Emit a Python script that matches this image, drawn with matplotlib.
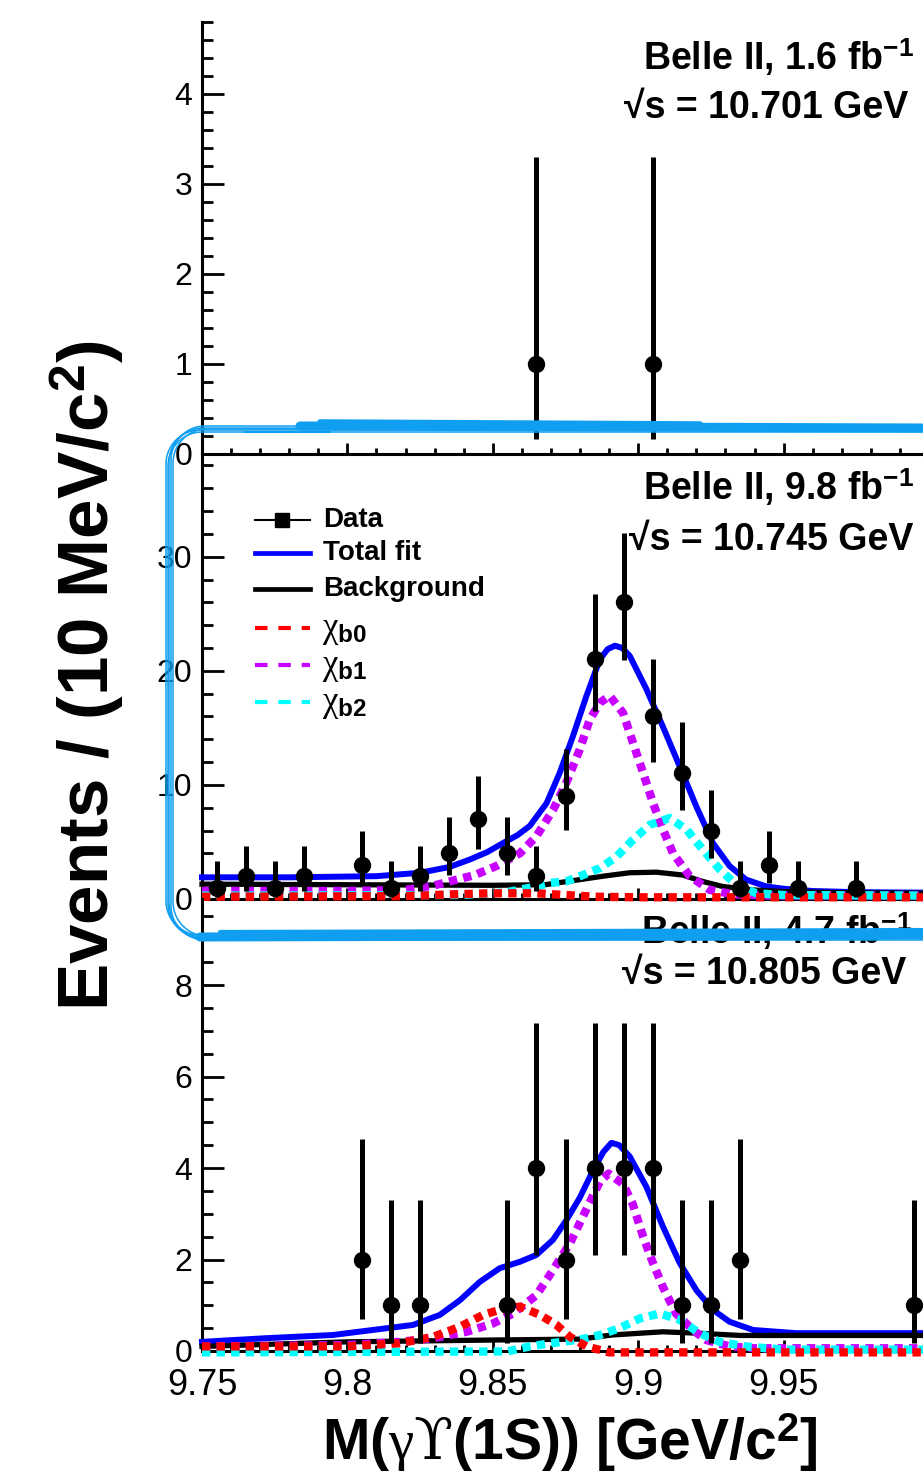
import numpy as np
import matplotlib
matplotlib.use("Agg")
import matplotlib.pyplot as plt
from matplotlib.lines import Line2D
from matplotlib.ticker import MultipleLocator, FuncFormatter

plt.rcParams['font.family'] = ['Liberation Sans', 'DejaVu Sans']
plt.rcParams['mathtext.fontset'] = 'custom'
plt.rcParams['mathtext.rm'] = 'DejaVu Serif'
plt.rcParams['mathtext.it'] = 'Liberation Serif'
plt.rcParams['mathtext.bf'] = 'Liberation Sans:bold'

# ---------------- data ----------------
# sqrt(s) = 10.701 GeV
top_x = [9.865, 9.905]
top_y = [1, 1]
top_lo = [0.83, 0.83]
top_hi = [2.30, 2.30]

# sqrt(s) = 10.745 GeV
mid_x = [9.755, 9.765, 9.775, 9.785, 9.805, 9.815, 9.825, 9.835, 9.845, 9.855,
         9.865, 9.875, 9.885, 9.895, 9.905, 9.915, 9.925, 9.935, 9.945, 9.955, 9.975]
mid_y = [1, 2, 1, 2, 3, 1, 2, 4, 7, 4, 2, 9, 21, 26, 16, 11, 6, 1, 3, 1, 1]
mid_lo = [0.83, 1.29, 0.83, 1.29, 1.63, 0.83, 1.29, 1.91, 2.58, 1.91,
          1.29, 2.94, 4.50, 5.05, 3.95, 3.20, 2.38, 0.83, 1.63, 0.83, 0.83]
mid_hi = [2.30, 2.64, 2.30, 2.64, 2.92, 2.30, 2.64, 3.16, 3.80, 3.16,
          2.64, 4.15, 5.70, 6.10, 5.05, 4.50, 3.58, 2.30, 2.92, 2.30, 2.30]

mid_fit_x = [9.75, 9.78, 9.81, 9.825, 9.835, 9.842, 9.848, 9.8535, 9.8585, 9.8627,
             9.8685, 9.873, 9.8776, 9.8822, 9.8868, 9.8895, 9.892, 9.8945, 9.8971,
             9.9028, 9.9085, 9.9143, 9.920, 9.9257, 9.9314, 9.9371, 9.944, 9.95,
             9.96, 9.975, 10.0]
mid_fit_y = [1.9, 1.9, 2.0, 2.3, 2.8, 3.45, 4.1, 4.9, 5.6, 6.4,
             8.4, 11.05, 14.3, 17.8, 21.0, 21.9, 22.2, 22.0, 21.3,
             18.4, 15.1, 11.6, 8.1, 4.9, 2.9, 1.7, 1.1, 0.9,
             0.7, 0.6, 0.55]
mid_bkg_x = [9.75, 9.80, 9.85, 9.868, 9.876, 9.888, 9.897, 9.9063, 9.9153, 9.922,
             9.929, 9.939, 9.95, 9.97, 10.0]
mid_bkg_y = [1.3, 1.25, 1.2, 1.25, 1.55, 2.0, 2.3, 2.35, 2.1, 1.55,
             1.1, 0.8, 0.65, 0.55, 0.5]
mid_b0_x = [9.75, 9.82, 9.835, 9.85, 9.865, 9.875, 9.885, 9.90, 10.0]
mid_b0_y = [0.2, 0.25, 0.4, 0.5, 0.5, 0.35, 0.2, 0.15, 0.15]
mid_b1_x = [9.75, 9.80, 9.82, 9.83, 9.8438, 9.8513, 9.8593, 9.865, 9.8707, 9.8753,
            9.8799, 9.8833, 9.8868, 9.8902, 9.8948, 9.8982, 9.9017, 9.9051, 9.9085,
            9.912, 9.9177, 9.9246, 9.933, 9.945, 10.0]
mid_b1_y = [0.7, 0.7, 0.8, 1.2, 2.1, 2.9, 4.0, 5.5, 7.8, 10.2,
            13.1, 15.7, 17.2, 17.8, 16.3, 13.7, 11.05, 8.4, 6.1,
            4.0, 2.0, 0.8, 0.4, 0.3, 0.3]
mid_b2_x = [9.75, 9.84, 9.855, 9.865, 9.8696, 9.8753, 9.881, 9.8868, 9.8925, 9.8982,
            9.904, 9.9108, 9.9166, 9.9223, 9.928, 9.9337, 9.9406, 9.95, 10.0]
mid_b2_y = [0.3, 0.35, 0.6, 1.1, 1.4, 1.55, 2.1, 2.7, 3.7, 5.2,
            6.5, 7.1, 6.1, 4.3, 2.6, 1.25, 0.5, 0.35, 0.3]

# sqrt(s) = 10.805 GeV
bot_x = [9.805, 9.815, 9.825, 9.855, 9.865, 9.875, 9.885, 9.895, 9.905, 9.915,
         9.925, 9.935, 9.995]
bot_y = [2, 1, 1, 1, 4, 2, 4, 4, 4, 1, 1, 2, 1]
bot_lo = [1.29, 0.83, 0.83, 0.83, 1.91, 1.29, 1.91, 1.91, 1.91, 0.83, 0.83, 1.29, 0.83]
bot_hi = [2.64, 2.30, 2.30, 2.30, 3.16, 2.64, 3.16, 3.16, 3.16, 2.30, 2.30, 2.64, 2.30]

bot_fit_x = [9.75, 9.772, 9.795, 9.8088, 9.8226, 9.8318, 9.8387, 9.8455, 9.8524, 9.8593,
             9.865, 9.8707, 9.8753, 9.8799, 9.8845, 9.888, 9.8908, 9.8935, 9.8971,
             9.9028, 9.9085, 9.9143, 9.92, 9.9257, 9.9314, 9.9395, 9.9543, 10.0]
bot_fit_y = [0.2, 0.28, 0.35, 0.46, 0.57, 0.79, 1.11, 1.51, 1.81, 1.95,
             2.1, 2.43, 2.86, 3.35, 3.95, 4.35, 4.55, 4.5, 4.25,
             3.59, 2.72, 1.92, 1.33, 0.9, 0.64, 0.46, 0.39, 0.39]
bot_bkg_x = [9.75, 9.80, 9.85, 9.88, 9.891, 9.9085, 9.92, 9.935, 10.0]
bot_bkg_y = [0.1, 0.2, 0.24, 0.26, 0.35, 0.42, 0.39, 0.34, 0.34]
bot_b0_x = [9.75, 9.80, 9.818, 9.8295, 9.8387, 9.8467, 9.8524, 9.8593, 9.8662, 9.8719,
            9.8765, 9.8822, 9.89, 10.0]
bot_b0_y = [0.1, 0.1, 0.17, 0.31, 0.53, 0.79, 0.9, 0.97, 0.79, 0.57,
            0.31, 0.1, -0.03, -0.03]
bot_b1_x = [9.75, 9.80, 9.818, 9.8295, 9.841, 9.85, 9.857, 9.865, 9.8707, 9.8765,
            9.8822, 9.8868, 9.8898, 9.8948, 9.8982, 9.9017, 9.9051, 9.9085, 9.913,
            9.9188, 9.9234, 9.9314, 9.94, 10.0]
bot_b1_y = [0.1, 0.13, 0.2, 0.28, 0.42, 0.6, 0.82, 1.22, 1.77, 2.35,
            3.1, 3.7, 3.88, 3.65, 3.2, 2.5, 1.92, 1.4, 0.82,
            0.46, 0.24, 0.1, 0.06, 0.06]
bot_b2_x = [9.75, 9.855, 9.8627, 9.87, 9.8765, 9.8822, 9.8868, 9.8936, 9.9005, 9.9074,
            9.9143, 9.9211, 9.928, 9.937, 9.95, 10.0]
bot_b2_y = [-0.03, -0.01, 0.1, 0.17, 0.22, 0.28, 0.35, 0.5, 0.71, 0.82,
            0.68, 0.39, 0.2, 0.1, 0.03, 0.03]

# ---------------- layout (pixel based) ----------------
W, H = 923, 1476


def fx(x):
    return x / W


def fy(y):
    return 1 - y / H


fig = plt.figure(figsize=(W / 100, H / 100), dpi=100)


def make_axes(ytop, ybot):
    return fig.add_axes([fx(202), fy(ybot), (929 - 202) / W, (ybot - ytop) / H])


ax_top = make_axes(22, 454)
ax_mid = make_axes(454, 899)
ax_bot = make_axes(899, 1351)

xfmt = FuncFormatter(lambda v, p: '' if v > 9.99 else f'{v:g}')


def style(ax, ymax, major, minor, xlabels):
    ax.set_xlim(9.75, 10.0)
    ax.set_ylim(0, ymax)
    for s in ('top', 'right'):
        ax.spines[s].set_visible(False)
    for s in ('left', 'bottom'):
        ax.spines[s].set_linewidth(2.2)
    ax.xaxis.set_major_locator(MultipleLocator(0.05))
    ax.xaxis.set_minor_locator(MultipleLocator(0.01))
    ax.xaxis.set_major_formatter(xfmt)
    ax.yaxis.set_major_locator(MultipleLocator(major))
    ax.yaxis.set_minor_locator(MultipleLocator(minor))
    ax.yaxis.set_major_formatter(FuncFormatter(lambda v, p: f'{v:g}'))
    ax.tick_params(axis='x', which='major', direction='in', length=8, width=2,
                   labelsize=26, pad=12, labelbottom=xlabels, top=False)
    ax.tick_params(axis='x', which='minor', direction='in', length=4.5, width=2, top=False)
    ax.tick_params(axis='y', which='major', direction='in', length=16, width=2,
                   labelsize=23, pad=7, right=False)
    ax.tick_params(axis='y', which='minor', direction='in', length=8, width=2, right=False)
    ax.patch.set_alpha(0)


style(ax_top, 4.8, 1, 0.2, False)
style(ax_mid, 39, 10, 2, False)
style(ax_bot, 9.88, 2, 0.5, True)

DOT = (0, (1, 0.75))


def draw_curves(ax, fit, bkg, b0, b1, b2):
    ax.plot(*fit, color='#0000ff', lw=4.3, zorder=3, clip_on=False)
    ax.plot(*bkg, color='black', lw=3.8, zorder=3, clip_on=False)
    ax.plot(*b1, color='#c800ff', lw=6, ls=DOT, zorder=4, clip_on=False)
    ax.plot(*b2, color='#00ffff', lw=6, ls=DOT, zorder=5, clip_on=False)
    ax.plot(*b0, color='#ff0000', lw=6, ls=DOT, zorder=6, clip_on=False)


def draw_data(ax, x, y, lo, hi):
    ax.errorbar(x, y, yerr=[lo, hi], fmt='o', color='black', ms=11.5,
                elinewidth=3.6, capsize=0, zorder=10, clip_on=False)


draw_data(ax_top, top_x, top_y, top_lo, top_hi)

draw_curves(ax_mid, (mid_fit_x, mid_fit_y), (mid_bkg_x, mid_bkg_y),
            (mid_b0_x, mid_b0_y), (mid_b1_x, mid_b1_y), (mid_b2_x, mid_b2_y))
draw_data(ax_mid, mid_x, mid_y, mid_lo, mid_hi)

draw_curves(ax_bot, (bot_fit_x, bot_fit_y), (bot_bkg_x, bot_bkg_y),
            (bot_b0_x, bot_b0_y), (bot_b1_x, bot_b1_y), (bot_b2_x, bot_b2_y))
draw_data(ax_bot, bot_x, bot_y, bot_lo, bot_hi)

# ---------------- panel captions ----------------
captions = [
    (r'Belle II, 1.6 fb$^{\mathbf{-1}}$', 914, 70, '√s = 10.701 GeV', 908, 118),
    (r'Belle II, 9.8 fb$^{\mathbf{-1}}$', 914, 500, '√s = 10.745 GeV', 913, 550),
    (r'Belle II, 4.7 fb$^{\mathbf{-1}}$', 912, 944, '√s = 10.805 GeV', 906, 984),
]
for t1, x1, y1, t2, x2, y2 in captions:
    fig.text(fx(x1), fy(y1), t1, ha='right', va='baseline', fontsize=27, fontweight='bold')
    fig.text(fx(x2), fy(y2), t2, ha='right', va='baseline', fontsize=27, fontweight='bold')

# ---------------- legend (middle panel) ----------------
leg_y = [520, 553, 589, 628, 665, 702]
leg_lab = ['Data', 'Total fit', 'Background',
           r'$\chi_{\mathbf{b0}}$', r'$\chi_{\mathbf{b1}}$', r'$\chi_{\mathbf{b2}}$']
DASH = (0, (3, 2.6))
leg_sty = [dict(color='black', lw=1.5, marker='s', ms=10, markevery=[1]),
           dict(color='#0000ff', lw=3.4),
           dict(color='black', lw=3.4),
           dict(color='#ff0000', lw=3, ls=DASH),
           dict(color='#c800ff', lw=3, ls=DASH),
           dict(color='#00ffff', lw=3, ls=DASH)]
for y, lab, st in zip(leg_y, leg_lab, leg_sty):
    fig.add_artist(Line2D([fx(255), fx(282), fx(310)], [fy(y)] * 3,
                          transform=fig.transFigure, **st))
    if lab.startswith('$'):
        fig.text(fx(322), fy(y + 9), lab, ha='left', va='baseline', fontsize=25)
    else:
        fig.text(fx(323), fy(y + 7), lab, ha='left', va='baseline',
                 fontsize=20, fontweight='bold')

# ---------------- axis titles ----------------
fig.text(fx(88), fy(676), r'Events / (10 MeV/c$^{\mathbf{2}}$)', rotation=90,
         ha='center', va='center', fontsize=51, fontweight='bold')
fig.text(fx(570), fy(1460), r'M($\gamma\mathrm{ϒ}$(1S)) [GeV/c$^{\mathbf{2}}$]',
         ha='center', va='baseline', fontsize=41, fontweight='bold')

# ---------------- hand-drawn highlight around the middle panel ----------------
ANN = '#109ff0'


def stroke(xs, ys, lw, alpha=1.0):
    fig.add_artist(Line2D([fx(x) for x in xs], [fy(y) for y in ys],
                          transform=fig.transFigure, color=ANN, lw=lw, alpha=alpha,
                          solid_capstyle='round', zorder=50))


def rounded(left, top, bottom, r, right=960):
    a1 = np.linspace(-np.pi / 2, -np.pi, 14)
    a2 = np.linspace(np.pi, np.pi / 2, 14)
    xs = [right] + list(left + r + r * np.cos(a1)) + list(left + r + r * np.cos(a2)) + [right]
    ys = [top] + list(top + r + r * np.sin(a1)) + list(bottom - r + r * np.sin(a2)) + [bottom]
    return xs, ys


for dl, dt, db in [(0, 0, 0), (-3, 2, -2), (2, -2, 3), (-1, 4, 1), (4, 1, -1)]:
    xs, ys = rounded(169 + dl, 428 + dt, 937 + db, 34)
    stroke(xs, ys, 1.1)

stroke([300, 930], [426, 428], 6.5)
stroke([320, 700], [422, 424], 4)
stroke([244, 330], [432, 432], 1.5)
stroke([200, 930], [937, 935], 6.5)
stroke([220, 930], [932, 930], 3)

fig.savefig('out.png', dpi=100)
